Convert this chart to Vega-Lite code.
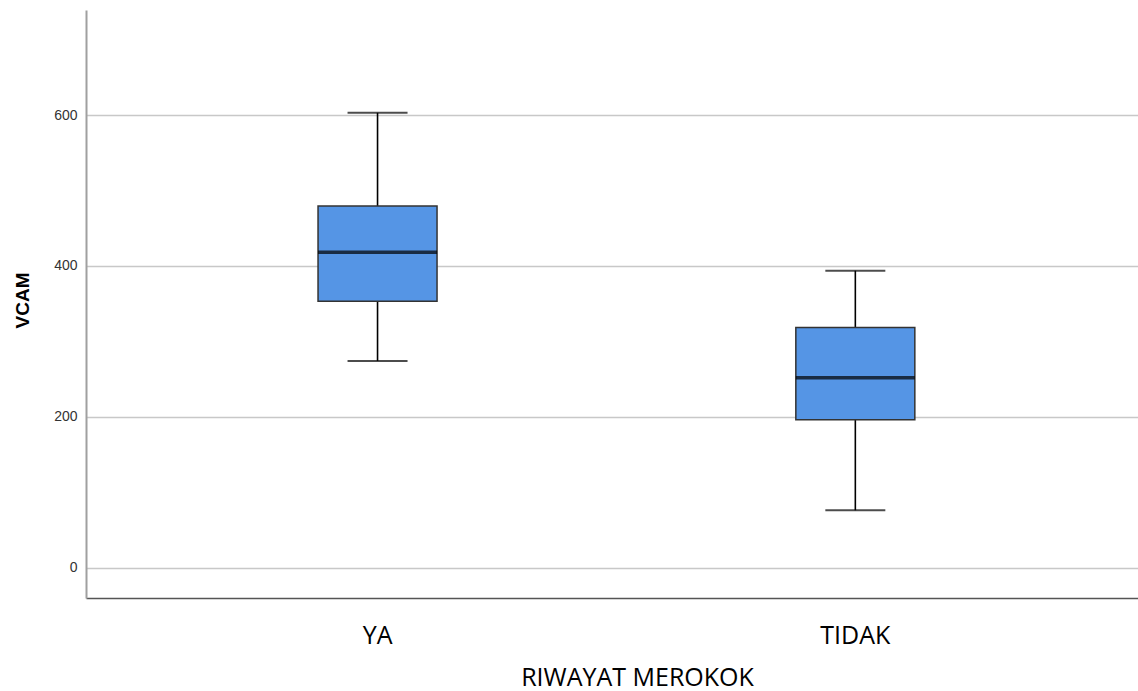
{
  "$schema": "https://vega.github.io/schema/vega-lite/v6.json",
  "width": 1052,
  "height": 588,
  "autosize": {"type": "none"},
  "padding": {"left": 86, "top": 10, "right": 0, "bottom": 93},
  "background": "white",
  "config": {"view": {"stroke": null}},
  "data": {
    "values": [
      {"group": "YA", "lower": 274, "q1": 353, "median": 418, "q3": 479.5, "upper": 603},
      {"group": "TIDAK", "lower": 76, "q1": 196, "median": 251.6, "q3": 318.5, "upper": 393.6}
    ]
  },
  "encoding": {
    "x": {
      "field": "group",
      "type": "nominal",
      "sort": ["YA", "TIDAK"],
      "scale": {"paddingInner": 0, "paddingOuter": 0.1009, "align": 0.546},
      "axis": {
        "title": "RIWAYAT MEROKOK",
        "labelAngle": 0,
        "ticks": false,
        "grid": false,
        "domainColor": "#555555",
        "domainWidth": 1.5,
        "labelFont": "Open Sans",
        "labelFontSize": 25,
        "labelColor": "#000000",
        "labelBaseline": "alphabetic",
        "labelPadding": 45,
        "titleFont": "Open Sans",
        "titleFontSize": 25,
        "titleFontWeight": "normal",
        "titleColor": "#000000",
        "titleBaseline": "alphabetic",
        "titleX": 551,
        "titleY": 87
      }
    }
  },
  "layer": [
    {
      "mark": {"type": "rule", "color": "#000000", "strokeWidth": 1.6},
      "encoding": {
        "y": {
          "field": "lower",
          "type": "quantitative",
          "scale": {"domain": [-40.3, 739.3], "nice": false, "zero": false},
          "axis": {
            "title": "VCAM",
            "values": [0, 200, 400, 600],
            "ticks": false,
            "grid": true,
            "gridColor": "#c8c8c8",
            "gridWidth": 1.5,
            "domainColor": "#a0a0a0",
            "domainWidth": 2,
            "labelFont": "Liberation Sans",
            "labelFontSize": 14,
            "labelColor": "#333333",
            "labelPadding": 9,
            "titleFont": "Liberation Sans",
            "titleFontSize": 19,
            "titleFontWeight": "bold",
            "titleColor": "#000000",
            "titleX": -54,
            "titleY": 290
          }
        },
        "y2": {"field": "upper"}
      }
    },
    {
      "mark": {"type": "tick", "color": "#000000", "size": 60, "thickness": 2, "orient": "horizontal"},
      "encoding": {"y": {"field": "lower", "type": "quantitative"}}
    },
    {
      "mark": {"type": "tick", "color": "#000000", "size": 60, "thickness": 2, "orient": "horizontal"},
      "encoding": {"y": {"field": "upper", "type": "quantitative"}}
    },
    {
      "mark": {"type": "bar", "size": 119, "fill": "#5595e5", "stroke": "#333333", "strokeWidth": 1.5},
      "encoding": {
        "y": {"field": "q1", "type": "quantitative"},
        "y2": {"field": "q3"}
      }
    },
    {
      "mark": {"type": "tick", "color": "#000000", "size": 119, "thickness": 3.5, "orient": "horizontal"},
      "encoding": {"y": {"field": "median", "type": "quantitative"}}
    }
  ]
}
